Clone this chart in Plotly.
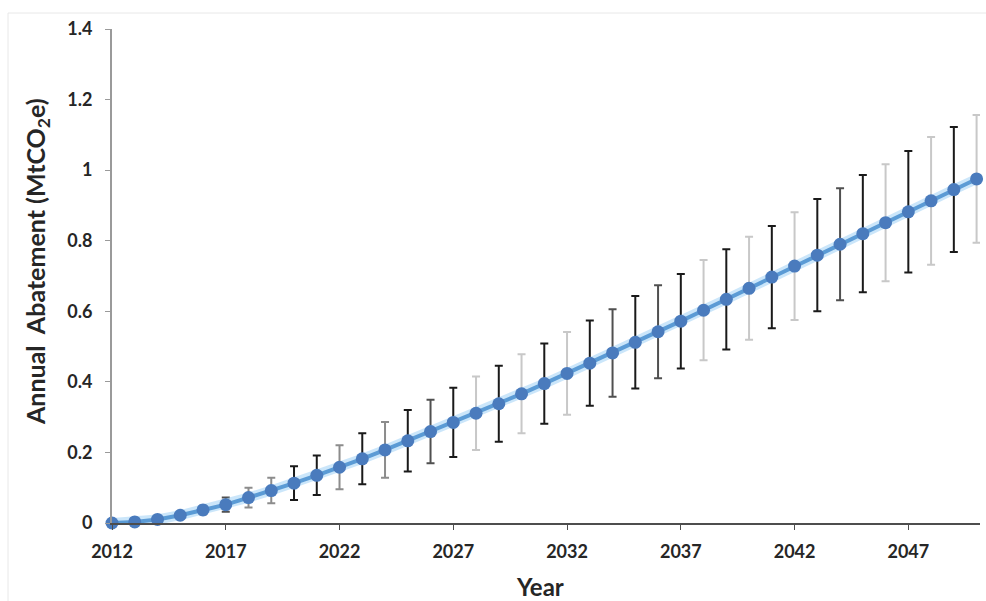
import plotly.graph_objects as go

years = list(range(2012, 2051))
abatement = [0.0, 0.003, 0.010, 0.022, 0.037, 0.052, 0.072, 0.092, 0.113, 0.135,
             0.158, 0.182, 0.207, 0.233, 0.259, 0.285, 0.311, 0.338, 0.366, 0.395,
             0.424, 0.453, 0.482, 0.512, 0.542, 0.572, 0.603, 0.634, 0.665, 0.697,
             0.728, 0.759, 0.790, 0.820, 0.851, 0.882, 0.913, 0.945, 0.975]
error = [0.0, 0.002, 0.005, 0.008, 0.012, 0.020, 0.028, 0.036, 0.048, 0.056,
         0.062, 0.072, 0.079, 0.087, 0.090, 0.098, 0.104, 0.108, 0.112, 0.114,
         0.117, 0.121, 0.124, 0.131, 0.132, 0.134, 0.142, 0.142, 0.146, 0.145,
         0.153, 0.159, 0.159, 0.166, 0.166, 0.172, 0.181, 0.177, 0.181]
# error-bar shade per year: k=black, d=dark grey, g=grey, l=light grey
shade = ["d", "d", "d", "d", "d", "d", "g", "g", "k", "k",
         "g", "k", "g", "k", "d", "k", "l", "k", "l", "k",
         "l", "k", "d", "k", "d", "k", "l", "k", "l", "k",
         "l", "k", "d", "k", "l", "k", "l", "k", "l"]
shade_colors = {"k": "#1a1a1a", "d": "#505050", "g": "#8c8c8c", "l": "#c8c8c8"}
xticks = [2012, 2017, 2022, 2027, 2032, 2037, 2042, 2047]

fig = go.Figure()

for key, col in shade_colors.items():
    idx = [i for i, s in enumerate(shade) if s == key]
    fig.add_trace(go.Scatter(
        x=[years[i] for i in idx], y=[abatement[i] for i in idx],
        mode="markers", marker=dict(size=1, opacity=0),
        error_y=dict(type="data", array=[error[i] for i in idx], symmetric=True,
                     color=col, thickness=2, width=4),
        showlegend=False, hoverinfo="skip", cliponaxis=False))

# glow under the line
fig.add_trace(go.Scatter(x=years, y=abatement, mode="lines",
                         line=dict(color="rgba(140,200,245,0.45)", width=10),
                         showlegend=False, hoverinfo="skip", cliponaxis=False))
fig.add_trace(go.Scatter(x=years, y=abatement, mode="lines+markers",
                         line=dict(color="#5b9bd5", width=4),
                         marker=dict(size=13, color="#4a7bbd"),
                         showlegend=False, cliponaxis=False))

L, R, T, B = 112, 6, 29, 78
W, H = 986, 601
pw, ph = W - L - R, H - T - B

tick_font = dict(family="Lato", size=18, weight="bold", color="#262626")
fig.update_layout(
    width=W, height=H,
    margin=dict(l=L, r=R, t=T, b=B),
    paper_bgcolor="white", plot_bgcolor="white",
    font=dict(family="Lato", color="#262626"),
    xaxis=dict(range=[2012, 2050.15], tickvals=xticks, showgrid=False, zeroline=False,
               showline=True, linecolor="#4d4d4d", linewidth=2,
               ticks="outside", ticklen=5, tickcolor="#4d4d4d", tickfont=tick_font,
               ticklabelstandoff=6),
    yaxis=dict(range=[0, 1.4], dtick=0.2, showgrid=False, zeroline=False,
               showline=True, linecolor="#9a9a9a", linewidth=2,
               ticks="outside", ticklen=5, tickcolor="#9a9a9a", tickfont=tick_font,
               ticklabelstandoff=9),
    annotations=[
        dict(text="Annual  Abatement (MtCO<sub>2</sub>e)", xref="paper", yref="paper",
             x=(37 - L) / pw, y=(H - B - 262) / ph, textangle=-90, showarrow=False,
             xanchor="center", yanchor="middle",
             font=dict(family="Lato", size=25, weight="bold", color="#262626")),
        dict(text="Year", xref="paper", yref="paper",
             x=(540 - L) / pw, y=(H - B - 586) / ph, showarrow=False,
             xanchor="center", yanchor="middle",
             font=dict(family="Lato", size=24, weight="bold", color="#262626")),
    ],
    shapes=[
        dict(type="line", xref="paper", yref="paper",
             x0=(8 - L) / pw, x1=(W - L) / pw, y0=(H - B - 13) / ph, y1=(H - B - 13) / ph,
             line=dict(color="#e8e8e8", width=1)),
        dict(type="line", xref="paper", yref="paper",
             x0=(8 - L) / pw, x1=(8 - L) / pw, y0=(H - B - 13) / ph, y1=(H - B - 601) / ph,
             line=dict(color="#e8e8e8", width=1)),
    ],
)

fig.write_html("out.html")
